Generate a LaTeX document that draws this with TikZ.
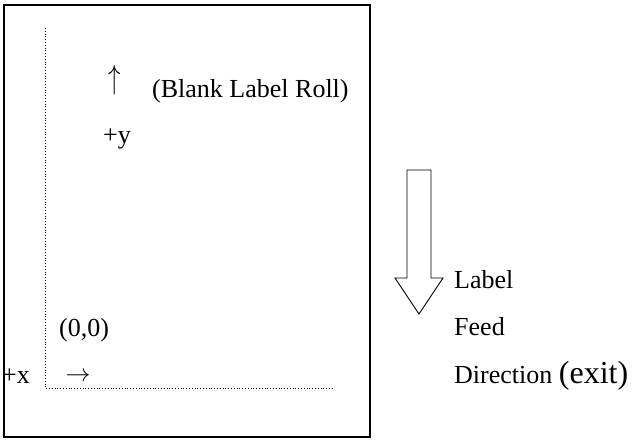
\documentclass[tikz,border=0pt]{standalone}
\usepackage{fontspec}
\usepackage{graphicx}
\setmainfont{Liberation Serif}
\usetikzlibrary{shapes, arrows.meta}
\tikzset{txt/.style={anchor=base west, inner sep=0pt, font=\fontsize{26}{30}\selectfont}}

\begin{document}
\begin{tikzpicture}[x=1pt, y=-1pt]
\useasboundingbox (0,0) rectangle (634,439);
\draw[line width=2pt] (4,5) rectangle (370,437);

\coordinate (ytop) at (45,28);
\coordinate (o) at (45,388);
\coordinate (xend) at (332,388);
\draw[dotted, line width=0.8pt] (ytop) -- (o) -- (xend);

\node[inner sep=0pt, font=\fontsize{24}{28}\selectfont] (up) at (115,80) {\scalebox{1.0}[1.35]{$\uparrow$}};
\node[txt] (roll) at (152,97) {(Blank Label Roll)};
\node[txt] (py) at (103,143) {+y};
\node[txt] (orig) at (59,336) {(0,0)};
\node[txt] (px) at (2,383) {+x};
\node[inner sep=0pt, font=\fontsize{24}{28}\selectfont] (right) at (78,377) {$\rightarrow$};

\draw[line width=0.9pt] (407,170) -- (431,170) -- (431,278) -- (443,278) -- (419,314)
  -- (395,278) -- (407,278) -- cycle;
\node[txt] (lab) at (454,288) {Label};
\node[txt] (feed) at (454,335) {Feed};
\node[txt] (dir) at (454,383) {Direction {\fontsize{32}{36}\selectfont(exit)}};
\end{tikzpicture}
\end{document}
